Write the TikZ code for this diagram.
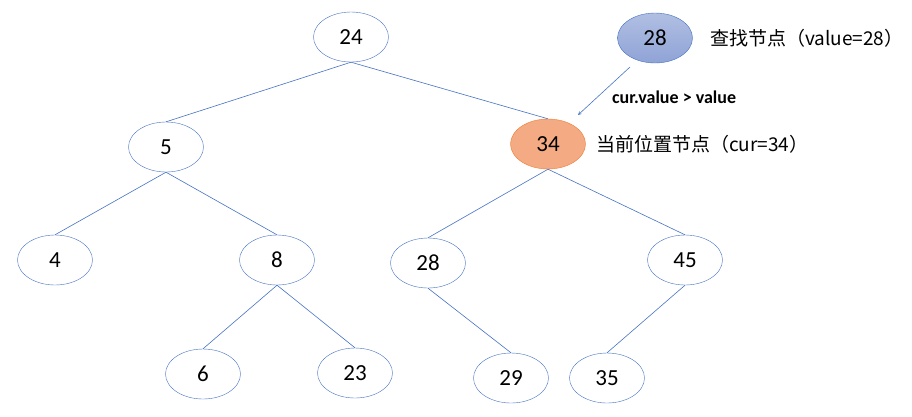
\documentclass[tikz,border=0pt]{standalone}
\usepackage{fontspec}
\setmainfont{Carlito}
\newfontfamily\cjk{Noto Sans CJK SC}
\usetikzlibrary{shapes.geometric}
\definecolor{edgeblue}{RGB}{68,114,196}
\definecolor{findblue}{RGB}{143,163,214}
\definecolor{curorange}{RGB}{244,170,130}
\definecolor{curline}{RGB}{237,125,49}
\begin{document}
\begin{tikzpicture}[x=1pt, y=-1pt]
  \tikzstyle{tnode} = [ellipse, draw=edgeblue, fill=white, minimum width=75pt, minimum height=50pt, inner sep=0pt, font=\fontsize{23}{26}\selectfont]
  \tikzstyle{link} = [draw=edgeblue, line width=0.6pt]
  \tikzstyle{note} = [anchor=west, inner sep=0pt, font=\fontsize{19}{22}\selectfont]
  \useasboundingbox (0,0) rectangle (912,416);

  \node [tnode] (n24) at (351,37) {24};
  \node [tnode, top color=findblue!70, bottom color=findblue, draw=edgeblue] (find) at (655,38) {28};
  \node [tnode] (n5) at (166,147) {5};
  \node [tnode, fill=curorange, draw=curline] (n34) at (548,144) {34};
  \node [tnode] (n4) at (55,260) {4};
  \node [tnode] (n8) at (277,260) {8};
  \node [tnode] (n28) at (428,263) {28};
  \node [tnode] (n45) at (685,260) {45};
  \node [tnode] (n6) at (203,374) {6};
  \node [tnode] (n23) at (355,373) {23};
  \node [tnode] (n29) at (511,378) {29};
  \node [tnode] (n35) at (607,378) {35};

  \node [note] (findlbl) at (710,38) {\cjk 查找节点（value=28）};
  \node [note] (curlbl) at (596,144) {\cjk 当前位置节点（cur=34）};
  \node [note, font=\fontsize{18}{21}\selectfont\bfseries] (cmp) at (612,97) {cur.value > value};

  \draw [link] (n24.south) -- (n5.north);
  \draw [link] (n24.south) -- (n34.north);
  \draw [link] (n5.south) -- (n4.north);
  \draw [link] (n5.south) -- (n8.north);
  \draw [link] (n8.south) -- (n6.north);
  \draw [link] (n8.south) -- (n23.north);
  \draw [link] (n34.south) -- (n28.north);
  \draw [link] (n34.south) -- (n45.north);
  \draw [link] (n28.south) -- (n29.north);
  \draw [link] (n45.south) -- (n35.north);
  \draw [link, ->, >=stealth] (630,67) -- (578,115);
\end{tikzpicture}
\end{document}
